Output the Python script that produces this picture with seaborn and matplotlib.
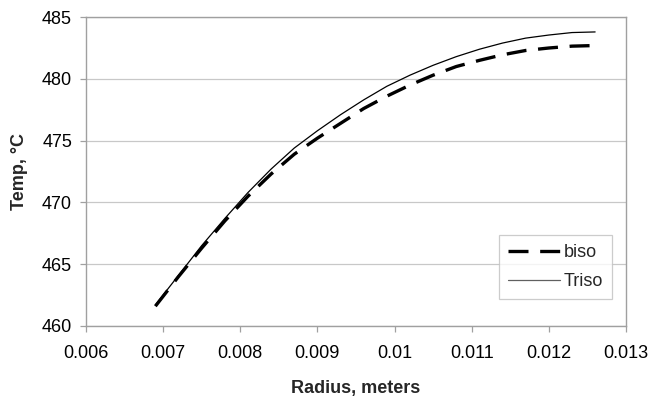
import numpy as np
import pandas as pd
import seaborn as sns
import matplotlib
matplotlib.use('Agg')
import matplotlib.pyplot as plt

# values
radius = [0.0069, 0.0072, 0.0075, 0.0078, 0.0081, 0.0084, 0.0087, 0.0090, 0.0093, 0.0096,
          0.0099, 0.0102, 0.0105, 0.0108, 0.0111, 0.0114, 0.0117, 0.0120, 0.0123, 0.0126]
temp_biso = [461.6, 464.0, 466.3, 468.5, 470.5, 472.3, 473.9, 475.2, 476.4, 477.6,
             478.6, 479.5, 480.3, 481.0, 481.5, 481.95, 482.3, 482.5, 482.65, 482.7]
temp_triso = [461.7, 464.1, 466.5, 468.7, 470.8, 472.7, 474.4, 475.8, 477.1, 478.3,
              479.4, 480.3, 481.1, 481.8, 482.4, 482.9, 483.3, 483.55, 483.75, 483.8]
x_ticks = [0.006, 0.007, 0.008, 0.009, 0.01, 0.011, 0.012, 0.013]
x_ticklabels = ['0.006', '0.007', '0.008', '0.009', '0.01', '0.011', '0.012', '0.013']
y_ticks = [460, 465, 470, 475, 480, 485]

df = pd.DataFrame({'radius': radius, 'biso': temp_biso, 'Triso': temp_triso})

sns.set_style('white')
plt.rcParams['font.family'] = ['Liberation Sans', 'DejaVu Sans']

fig = plt.figure(figsize=(6.51, 3.98), dpi=100)
ax = fig.add_axes([0.132, 0.181, 0.8296, 0.776])

sns.lineplot(data=df, x='radius', y='biso', ax=ax, color='black', lw=2.4,
             label='biso')
ax.lines[-1].set_dashes([6, 3.5])
sns.lineplot(data=df, x='radius', y='Triso', ax=ax, color='black', lw=0.9,
             label='Triso')

ax.set_xlim(0.006, 0.013)
ax.set_ylim(460, 485)
ax.set_xticks(x_ticks)
ax.set_xticklabels(x_ticklabels)
ax.set_yticks(y_ticks)
ax.yaxis.grid(True, color='#c8c8c8', lw=0.9)
ax.set_axisbelow(True)

for side in ['left', 'bottom', 'top', 'right']:
    ax.spines[side].set_color('#a0a0a0')
    ax.spines[side].set_linewidth(1.0)

ax.tick_params(axis='both', which='major', labelsize=13, labelcolor='black',
               color='#a0a0a0', length=4, width=0.9, direction='out')
ax.tick_params(axis='x', pad=10)
ax.tick_params(axis='y', pad=6)
ax.tick_params(bottom=True, left=True)

ax.set_xlabel('Radius, meters', fontsize=13, fontweight='bold', labelpad=13)
ax.set_ylabel('Temp, \u00b0C', fontsize=13, fontweight='bold', labelpad=10)

leg = ax.legend(loc='lower right', bbox_to_anchor=(0.974, 0.087), fontsize=13,
                frameon=True, fancybox=False, handlelength=2.9, handletextpad=0.2,
                borderpad=0.5, labelspacing=0.65, borderaxespad=0)
leg.get_frame().set_edgecolor('#c0c0c0')
leg.get_frame().set_linewidth(0.9)
leg.legend_handles[1].set_color('#606060')

fig.savefig('out.png', dpi=100)
